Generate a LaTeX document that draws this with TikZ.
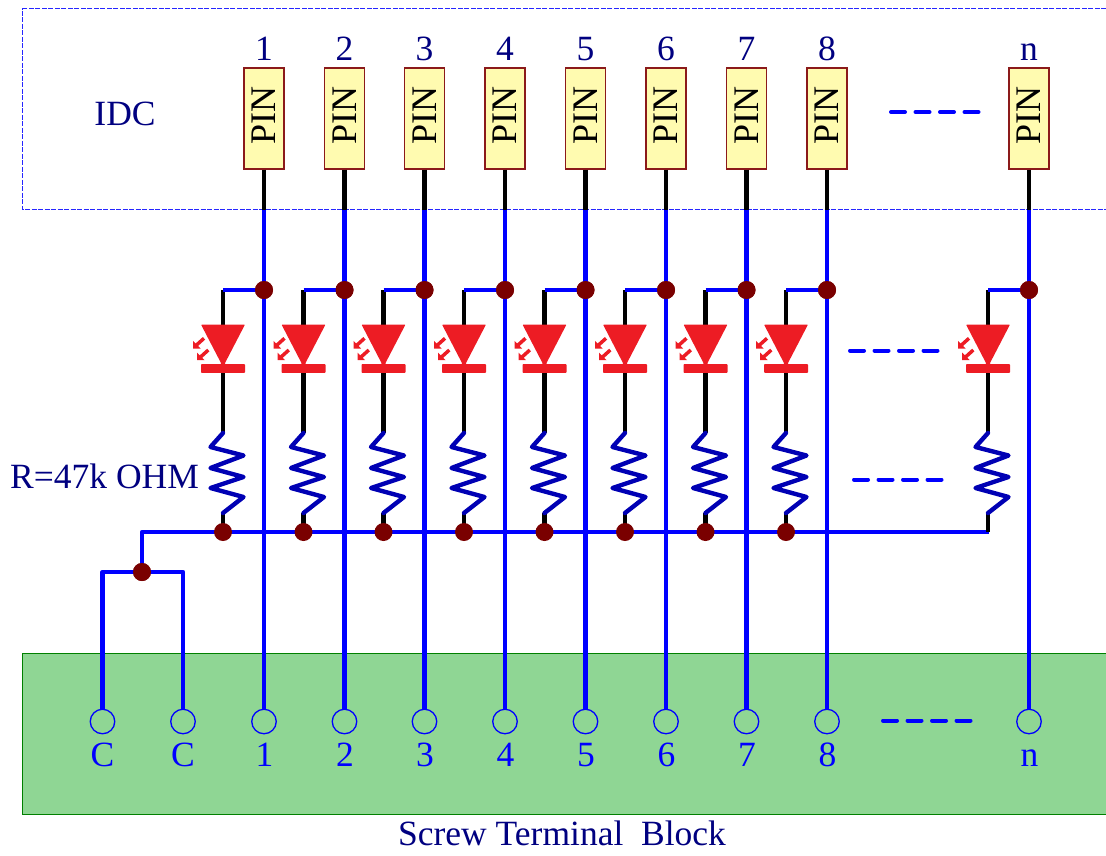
\documentclass[tikz,border=0pt]{standalone}
\usepackage{fontspec}
\setmainfont{Liberation Serif}
\definecolor{wireblue}{HTML}{0000FF}
\definecolor{navy}{HTML}{000080}
\definecolor{resblue}{HTML}{0000B4}
\definecolor{dotred}{HTML}{7A0000}
\definecolor{ledred}{HTML}{ED1C24}
\definecolor{termgreen}{HTML}{8FD694}
\definecolor{pinfill}{HTML}{FFFBB0}
\definecolor{pinedge}{HTML}{8B1A1A}
\tikzset{
  wire/.style={draw=wireblue,line width=4.4pt,line join=round},
  lead/.style={draw=black,line width=4.4pt},
  reswire/.style={draw=resblue,line width=4.4pt,line join=round,line cap=round},
  gap/.style={draw=wireblue,line width=4pt,line cap=round,dash pattern=on 14pt off 10.5pt},
  joint/.style={circle,fill=dotred,inner sep=0pt,minimum size=18pt},
  terminal/.style={circle,draw=wireblue,line width=1.3pt,inner sep=0pt,minimum size=24.5pt},
  pinbox/.style={draw=pinedge,fill=pinfill,line width=1.1pt,rotate=90,inner sep=0pt,minimum width=101pt,minimum height=40pt,font=\fontsize{36}{38}\selectfont,text=black},
  navylabel/.style={text=navy,inner sep=0pt,font=\fontsize{35.5}{38}\selectfont},
  bluelabel/.style={text=wireblue,inner sep=0pt,font=\fontsize{35.5}{38}\selectfont},
}
\begin{document}
\begin{tikzpicture}[x=1pt,y=-1pt]
\useasboundingbox (0,0) rectangle (1106,855);
% blocks
\draw[draw=wireblue!85,line width=1.2pt,dash pattern=on 5pt off 1.5pt] (1106,8.5) -- (22.5,8.5) -- (22.5,209.5) -- (1106,209.5);
\fill[termgreen,draw=green!50!black,line width=1pt] (1107,653) -- (22,653) -- (22,814.5) -- (1107,814.5);
\node[navylabel,anchor=base] (idc) at (125,125) {IDC};
\node[navylabel,anchor=west] (rlabel) at (10,476) {R=47k OHM};
\node[navylabel,anchor=base] (stb) at (562,845) {Screw Terminal \ Block};
% common bus
\coordinate (busleft) at (142,532);
\coordinate (busright) at (988.5,532);
\node[joint] (cjoint) at (142,572) {};
\node[terminal] (tc1) at (102.5,721.5) {};
\node[terminal] (tc2) at (183,721.5) {};
\node[bluelabel,anchor=base] (lc1) at (102.5,766) {C};
\node[bluelabel,anchor=base] (lc2) at (183,766) {C};
\draw[wire] (tc1.north) |- (cjoint.center) -| (tc2.north);
\draw[wire] (cjoint.center) |- (busright);
% channels
\foreach \x/\lab/\i in {264/1/1,344.5/2/2,424.5/3/3,505/4/4,585.5/5/5,666/6/6,746.5/7/7,827/8/8,1029/n/9}{
  \node[pinbox] (pin\i) at (\x,118.5) {\hspace{6pt}PIN};
  \node[navylabel,anchor=base] (top\i) at (\x,60) {\lab};
  \node[terminal] (term\i) at (\x,721.5) {};
  \node[bluelabel,anchor=base] (lab\i) at (\x+0.5,766) {\lab};
  \coordinate (sw\i) at (\x,209.5);
  \node[joint] (j\i) at (\x,290) {};
  \draw[lead] (pin\i.west) -- (sw\i);
  \draw[wire] (sw\i) -- (term\i.north);
  % LED and resistor column
  \begin{scope}[shift={(\x-41,0)}]
    \coordinate (a\i) at (0,290);
    \coordinate (ledtop\i) at (0,325);
    \coordinate (ledbot\i) at (0,372);
    \coordinate (rtop\i) at (0,433);
    \coordinate (rbot\i) at (0,513);
    \coordinate (bus\i) at (0,532);
    \draw[lead] (a\i) -- (ledtop\i);
    \draw[lead] (ledbot\i) -- (rtop\i);
    \draw[lead] (rbot\i) -- (bus\i);
    \draw[wire] (a\i) -- (j\i.center);
    \fill[ledred,rounded corners=0.8pt] (-22,324.5) -- (22,324.5) -- (1.5,364) -- (22,364) -- (22,372.8) -- (-22,372.8) -- (-22,364) -- (-1.5,364) -- cycle;
    \draw[ledred,line width=3.5pt] (-19,338.3) -- (-27,345.5);
    \fill[ledred] (-30,348.5) -- (-30,340.8) -- (-22.3,348.5) -- cycle;
    \draw[ledred,line width=3.5pt] (-14.7,350) -- (-23,357.5);
    \fill[ledred] (-26,360.2) -- (-26,352.5) -- (-18.3,360.2) -- cycle;
    \draw[reswire] (rtop\i) -- (-12.5,447) -- (20.5,455.5) -- (-12.5,468) -- (20.5,477) -- (-12.5,488) -- (20.5,497) -- (rbot\i);
  \end{scope}
  \node[joint] at (j\i) {};
}
\foreach \i in {1,...,8}{ \node[joint] (b\i) at (bus\i) {}; }
\node[joint] at (cjoint) {};
% omitted-channel marks
\coordinate (g1a) at (891,112); \coordinate (g1b) at (979,112);
\coordinate (g2a) at (850,350.5); \coordinate (g2b) at (938,350.5);
\coordinate (g3a) at (854,479.5); \coordinate (g3b) at (942,479.5);
\coordinate (g4a) at (883,720.5); \coordinate (g4b) at (971,720.5);
\draw[gap] (g1a) -- (g1b);
\draw[gap] (g2a) -- (g2b);
\draw[gap] (g3a) -- (g3b);
\draw[gap] (g4a) -- (g4b);
\end{tikzpicture}
\end{document}
